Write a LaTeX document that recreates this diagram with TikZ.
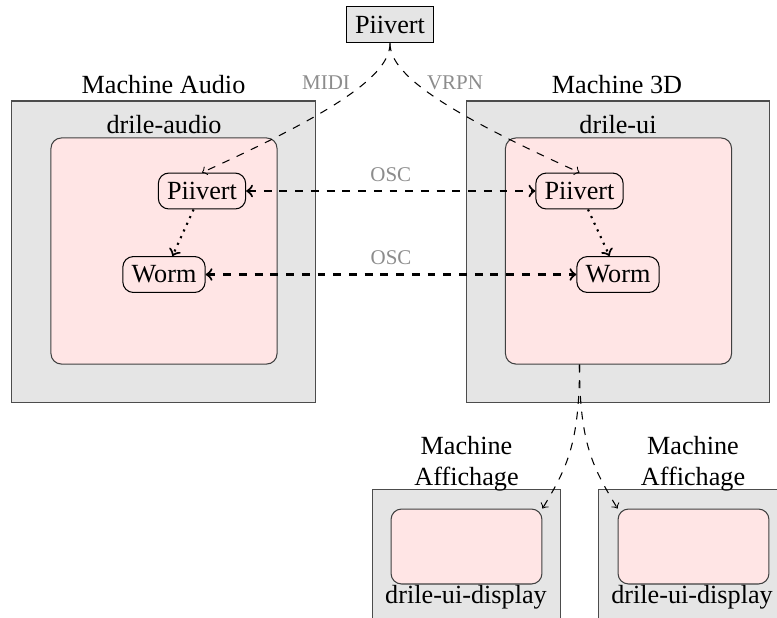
\documentclass[tikz,border=0pt]{standalone}
\usepackage{fontspec}
\setmainfont{Liberation Serif}
\begin{document}
\begin{tikzpicture}[x=0.3817pt, y=-0.3817pt,
    machine/.style={draw=black!70, fill=black!10, inner sep=0pt},
    process/.style={draw=black!75, fill=red!10, rounded corners, inner sep=0pt},
    agent/.style={draw, rounded corners, minimum height=13.7pt},
    proto/.style={font=\footnotesize, text=black!45},
    link/.style={->, dashed},
    osclink/.style={<->, dashed, thick},
    flow/.style={->, dotted, thick}]
        \useasboundingbox (0, 0) rectangle (777, 617);
        \node[machine, minimum width=115.7pt, minimum height=114.9pt]
        (audioMachine) at (163.5, 251.5) {};
        \node[machine, minimum width=115.7pt, minimum height=114.9pt]
        (threeDMachine) at (618, 251.5) {};
        \node[process, minimum width=86.3pt, minimum height=86.3pt]
        (audioBox) at (164, 251) {};
        \node[process, minimum width=86.3pt, minimum height=86.3pt]
        (uiBox) at (618.5, 251) {};
        \node[machine, minimum width=72.1pt, minimum height=51.9pt]
        (dispMachineA) at (466.5, 557) {};
        \node[machine, minimum width=72.1pt, minimum height=51.9pt]
        (dispMachineB) at (692.5, 557) {};
        \node[process, minimum width=57.6pt, minimum height=28.6pt]
        (dispA) at (466.5, 546.5) {};
        \node[process, minimum width=57.6pt, minimum height=28.6pt]
        (dispB) at (693.5, 546.5) {};
        \node[anchor=base] (audioTitle) at (163.5, 93) {Machine Audio};
        \node[anchor=base] (threeDTitle) at (617, 93) {Machine 3D};
        \node[anchor=base] (audioName) at (164, 133) {drile-audio};
        \node[anchor=base] (uiName) at (618, 133) {drile-ui};
        \node[align=center] (dispTitleA) at (466.5, 463.5) {Machine\\Affichage};
        \node[align=center] (dispTitleB) at (693, 463.5) {Machine\\Affichage};
        \node[anchor=base] (dispNameA) at (466, 603) {drile-ui-display};
        \node[anchor=base] (dispNameB) at (692, 603) {drile-ui-display};
        \node[draw, fill=black!10, minimum height=14pt]
        (piivertTop) at (390, 24.5) {Piivert};
        \node[agent] (piivertA) at (202, 191) {Piivert};
        \node[agent] (wormA) at (164, 274.5) {Worm};
        \node[agent] (piivertB) at (579.5, 191) {Piivert};
        \node[agent] (wormB) at (618, 274.5) {Worm};
        \node[proto, anchor=base] (midi) at (326, 89) {MIDI};
        \node[proto, anchor=base] (vrpn) at (455, 89) {VRPN};
        \coordinate (uiOut) at (uiBox.south -| piivertB);
        \draw[link] (piivertTop.south) .. controls +(0, 32) and +(132, -60)
        .. (piivertA.north);
        \draw[link] (piivertTop.south) .. controls +(0, 32) and +(-132, -60)
        .. (piivertB.north);
        \draw[osclink] (piivertA) -- node[proto, above] (oscA) {OSC} (piivertB);
        \draw[osclink] (wormA) -- node[proto, above] (oscB) {OSC} (wormB);
        \draw[flow] (piivertA) -- (wormA);
        \draw[flow] (piivertB) -- (wormB);
        \draw[link] (uiOut) .. controls +(0, 80) and +(24, -40) .. (dispA.north east);
        \draw[link] (uiOut) .. controls +(0, 80) and +(-24, -40) .. (dispB.north west);
      \end{tikzpicture}
\end{document}
